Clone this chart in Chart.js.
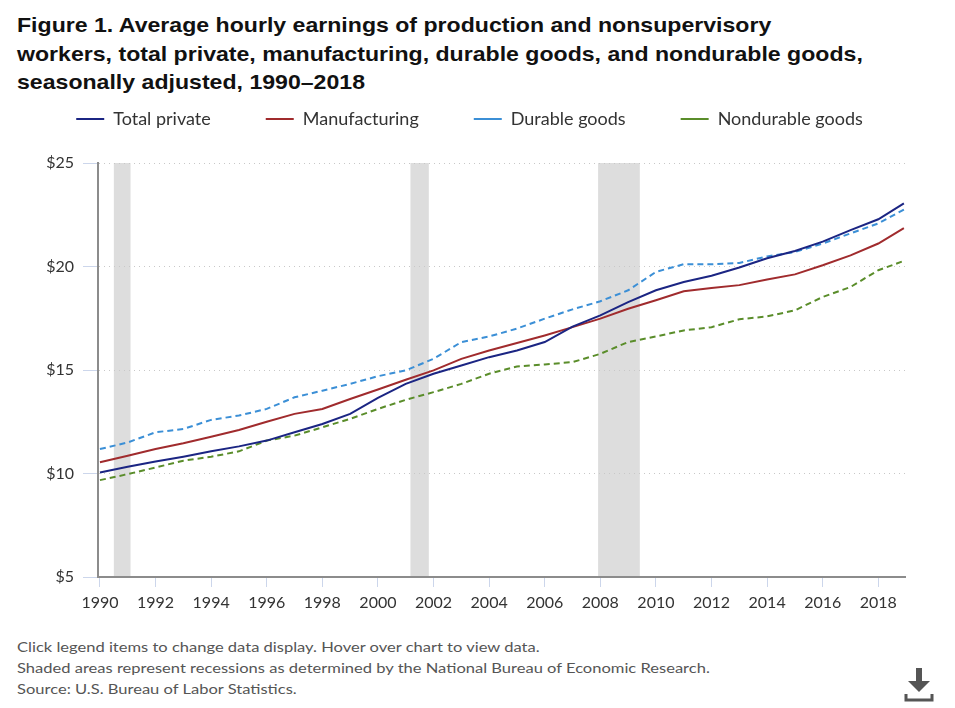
<!DOCTYPE html>
<html lang="en">
<head>
<meta charset="UTF-8">
<title>Figure 1. Average hourly earnings</title>
<script src="https://cdn.jsdelivr.net/npm/chart.js"></script>
<style>
  body { margin: 0; background: #fff; width: 955px; height: 708px; position: relative; overflow: hidden; }
  .titulo { position: absolute; left: 17px; top: 11px; white-space: nowrap; font-family: "Liberation Sans", Arial, sans-serif; font-weight: bold; font-size: 21px; line-height: 28.5px; color: #111; transform: scaleX(1.1); transform-origin: 0 0; }
  .grafico { position: absolute; left: 0; top: 55px; width: 955px; height: 562px; }
  .rodape { position: absolute; left: 17px; top: 636px; white-space: nowrap; font-family: Lato, sans-serif; font-size: 14px; line-height: 21px; color: #555; transform: scaleX(1.18); transform-origin: 0 0; }
  .download { position: absolute; left: 904px; top: 668px; }
</style>
</head>
<body>
  <div class="titulo">Figure 1. Average hourly earnings of production and nonsupervisory<br>workers, total private, manufacturing, durable goods, and nondurable goods,<br>seasonally adjusted, 1990–2018</div>
  <div class="grafico"><canvas id="ganhos"></canvas></div>
  <div class="rodape">
    Click legend items to change data display. Hover over chart to view data.<br>
    Shaded areas represent recessions as determined by the National Bureau of Economic Research.<br>
    Source: U.S. Bureau of Labor Statistics.
  </div>
  <svg class="download" width="30" height="34" viewBox="0 0 30 34">
    <rect x="12" y="0" width="6" height="14" fill="#555"/>
    <polygon points="4,13 26,13 15,24" fill="#555"/>
    <polyline points="2,26 2,32 28,32 28,26" fill="none" stroke="#555" stroke-width="3"/>
  </svg>
<script>
// data: january of each year, last point is dec 2018
var anos = [1990, 1991, 1992, 1993, 1994, 1995, 1996, 1997, 1998, 1999,
            2000, 2001, 2002, 2003, 2004, 2005, 2006, 2007, 2008, 2009,
            2010, 2011, 2012, 2013, 2014, 2015, 2016, 2017, 2018, 2018.92];

var totalPrivate = [10.05, 10.33, 10.58, 10.81, 11.07, 11.31, 11.59, 11.99, 12.39, 12.88,
                    13.65, 14.33, 14.82, 15.22, 15.62, 15.94, 16.35, 17.10, 17.64, 18.28,
                    18.85, 19.25, 19.55, 19.95, 20.40, 20.75, 21.20, 21.76, 22.28, 23.05];

var manufacturing = [10.54, 10.86, 11.18, 11.46, 11.78, 12.10, 12.50, 12.88, 13.12, 13.60,
                     14.06, 14.53, 14.98, 15.54, 15.94, 16.30, 16.67, 17.07, 17.48, 17.96,
                     18.37, 18.80, 18.96, 19.10, 19.37, 19.62, 20.06, 20.54, 21.11, 21.85];

var durableGoods = [11.18, 11.50, 11.99, 12.15, 12.59, 12.80, 13.12, 13.68, 14.00, 14.33,
                    14.70, 14.98, 15.54, 16.35, 16.62, 17.00, 17.48, 17.93, 18.32, 18.85,
                    19.74, 20.11, 20.11, 20.17, 20.49, 20.70, 21.11, 21.60, 22.08, 22.75];

var nondurableGoods = [9.68, 9.97, 10.29, 10.62, 10.81, 11.07, 11.59, 11.83, 12.23, 12.64,
                       13.12, 13.56, 13.93, 14.33, 14.82, 15.17, 15.27, 15.38, 15.78, 16.35,
                       16.62, 16.91, 17.07, 17.45, 17.59, 17.88, 18.53, 19.01, 19.82, 20.27];

// NBER recessions (start, end) in decimal years
var recessoes = [[1990.5, 1991.1], [2001.17, 2001.83], [2007.92, 2009.42]];

var ticksAnos = [1990, 1992, 1994, 1996, 1998, 2000, 2002, 2004, 2006, 2008, 2010, 2012, 2014, 2016, 2018];
var ticksValores = [5, 10, 15, 20, 25];

function pontos(valores) {
    return anos.map((a, i) => ({ x: a, y: valores[i] }));
}

var sombras = {
    id: 'sombras',
    beforeDraw(chart) {
        var ctx = chart.ctx, area = chart.chartArea, x = chart.scales.x;
        ctx.save();
        ctx.fillStyle = '#dddddd';
        recessoes.forEach(r => {
            var x0 = x.getPixelForValue(r[0]);
            var x1 = x.getPixelForValue(r[1]);
            ctx.fillRect(x0, area.top, x1 - x0, area.bottom - area.top);
        });
        ctx.restore();
    }
};

// legend taller (plot starts lower) and nudged a bit to the right
var espacoLegenda = {
    id: 'espacoLegenda',
    beforeInit(chart) {
        var fit = chart.legend.fit;
        chart.legend.fit = function () {
            fit.bind(chart.legend)();
            this.height = 108;
        };
    },
    afterLayout(chart) {
        chart.legend.left += 17;
        chart.legend.right += 17;
    }
};

var fonte = { family: 'Lato, sans-serif', size: 16 };

new Chart(document.getElementById('ganhos').getContext('2d'), {
    type: 'line',
    data: {
        datasets: [{
            label: 'Total private',
            data: pontos(totalPrivate),
            borderColor: '#1b2583',
            backgroundColor: '#1b2583',
            borderWidth: 2
        }, {
            label: 'Manufacturing',
            data: pontos(manufacturing),
            borderColor: '#a02b2d',
            backgroundColor: '#a02b2d',
            borderWidth: 2
        }, {
            label: 'Durable goods',
            data: pontos(durableGoods),
            borderColor: '#3b8fd6',
            backgroundColor: '#3b8fd6',
            borderWidth: 2,
            borderDash: [6, 4]
        }, {
            label: 'Nondurable goods',
            data: pontos(nondurableGoods),
            borderColor: '#5a8d2a',
            backgroundColor: '#5a8d2a',
            borderWidth: 2,
            borderDash: [6, 4]
        }]
    },
    options: {
        responsive: true,
        maintainAspectRatio: false,
        animation: false,
        layout: { padding: { left: 0, right: 50, top: 0, bottom: 0 } },
        elements: { point: { radius: 0 }, line: { tension: 0 } },
        plugins: {
            legend: {
                position: 'top',
                labels: {
                    usePointStyle: true,
                    pointStyle: 'line',
                    pointStyleWidth: 28,
                    padding: 55,
                    color: '#333',
                    font: { family: 'Lato, sans-serif', size: 18 }
                }
            },
            tooltip: { enabled: false }
        },
        scales: {
            x: {
                type: 'linear',
                min: 1989.93,
                max: 2018.96,
                afterBuildTicks: axis => { axis.ticks = ticksAnos.map(v => ({ value: v })); },
                afterFit: s => { s.height = 40; },
                ticks: {
                    color: '#333',
                    font: fonte,
                    padding: 6,
                    maxRotation: 0,
                    autoSkip: false,
                    callback: v => String(v)
                },
                grid: { drawOnChartArea: false, drawTicks: true, tickLength: 10, tickColor: '#ccd6eb', lineWidth: 1 },
                border: { display: true, color: '#8c8c8c', width: 2 }
            },
            y: {
                min: 5,
                max: 25,
                afterBuildTicks: axis => { axis.ticks = ticksValores.map(v => ({ value: v })); },
                afterFit: s => { s.width = 98; },
                ticks: {
                    color: '#333',
                    font: fonte,
                    padding: 9,
                    callback: v => '$' + v
                },
                grid: {
                    color: c => c.tick && c.tick.value === 5 ? 'rgba(0,0,0,0)' : '#c8c8c8',
                    tickColor: '#ccd6eb',
                    tickLength: 15,
                    tickBorderDash: [],
                    lineWidth: 1
                },
                border: { display: true, color: '#8c8c8c', width: 2, dash: [1, 4] }
            }
        }
    },
    plugins: [sombras, espacoLegenda]
});
</script>
</body>
</html>
